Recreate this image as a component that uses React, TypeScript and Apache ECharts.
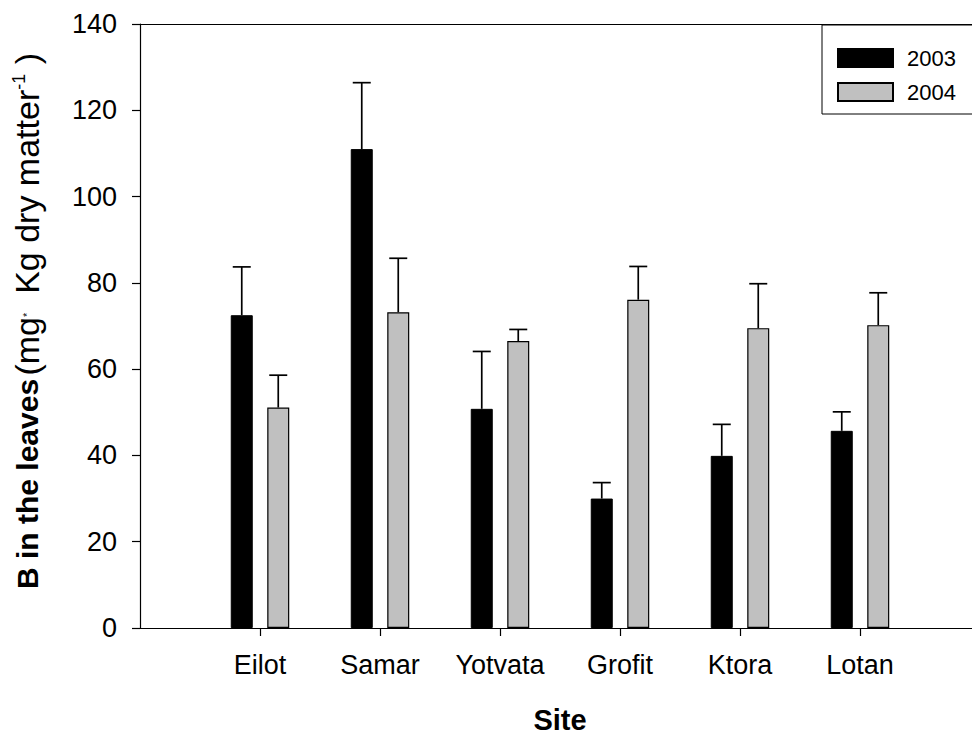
import React, { useEffect, useRef } from "react";
import * as echarts from "echarts";

const categories = ["Eilot", "Samar", "Yotvata", "Grofit", "Ktora", "Lotan"];
const seriesNames = ["2003", "2004"];
const values2003 = [72.5, 111.0, 50.8, 30.0, 39.9, 45.7];
const errors2003 = [11.2, 15.4, 13.3, 3.7, 7.3, 4.4];
const values2004 = [51.1, 73.2, 66.5, 76.1, 69.5, 70.2];
const errors2004 = [7.5, 12.5, 2.7, 7.7, 10.3, 7.5];
const yMin = 0;
const yMax = 140;
const yInterval = 20;

const FONT = "'Liberation Sans', Arial, Helvetica, sans-serif";
const BAR_WIDTH = 22;
const BAR_GAP = 14.5;

export default function App() {
  const ref = useRef<HTMLDivElement>(null);
  useEffect(() => {
    if (!ref.current) return;
    const chart = echarts.init(ref.current, null, { renderer: "svg" });
    const axisCats = ["", ...categories, ""];
    const offset = (BAR_WIDTH + BAR_GAP) / 2;
    const errSeries = (name: string, vals: number[], errs: number[], dir: number) => ({
      type: "custom",
      name,
      z: 5,
      silent: true,
      encode: { x: 0, y: 1 },
      data: categories.map((c, i) => [c, vals[i], errs[i]]),
      renderItem: (params: any, api: any) => {
        const idx = api.value(0);
        const v = api.value(1);
        const e = api.value(2);
        const base = api.coord([idx, v]);
        const top = api.coord([idx, v + e]);
        const x = base[0] + dir * offset;
        const cap = 9;
        const style = { stroke: "#000", lineWidth: 1.7 };
        return {
          type: "group",
          children: [
            { type: "line", shape: { x1: x, y1: base[1], x2: x, y2: top[1] }, style },
            { type: "line", shape: { x1: x - cap, y1: top[1], x2: x + cap, y2: top[1] }, style },
          ],
        };
      },
    });
    chart.setOption({
      animation: false,
      backgroundColor: "#fff",
      textStyle: { fontFamily: FONT, color: "#000" },
      grid: {
        left: 140,
        top: 24,
        right: 30,
        bottom: 115,
        show: false,
        outerBoundsMode: "none",
      },
      graphic: [
        {
          type: "rect",
          z: 90,
          shape: { x: 822, y: 25, width: 180, height: 89 },
          style: { fill: "#fff", stroke: "#000", lineWidth: 1 },
        },
      ],
      legend: {
        data: seriesNames,
        orient: "vertical",
        left: 837,
        top: 47,
        itemWidth: 55,
        itemHeight: 18,
        itemGap: 12,
        padding: 0,
        z: 100,
        icon: "rect",
        textStyle: {
          fontSize: 22,
          lineHeight: 18,
          fontFamily: FONT,
          color: "#000",
          padding: [0, 0, 0, 9],
        },
      },
      xAxis: [
        {
          type: "category",
          data: axisCats,
          boundaryGap: false,
          axisLine: { lineStyle: { color: "#000", width: 1.2 } },
          axisTick: {
            show: true,
            length: 8,
            interval: (index: number, value: string) => value !== "",
            lineStyle: { color: "#000", width: 1.2 },
          },
          axisLabel: { interval: 0, fontSize: 27, color: "#000", margin: 23, fontFamily: FONT },
          splitLine: { show: false },
          name: "Site",
          nameLocation: "middle",
          nameGap: 77,
          nameTextStyle: { fontSize: 29, fontWeight: "bold", color: "#000", fontFamily: FONT },
        },
        {
          type: "category",
          data: axisCats,
          boundaryGap: false,
          position: "top",
          axisLine: { show: true, lineStyle: { color: "#000", width: 1.2 } },
          axisTick: { show: false },
          axisLabel: { show: false },
          splitLine: { show: false },
        },
      ],
      yAxis: {
        type: "value",
        min: yMin,
        max: yMax,
        interval: yInterval,
        axisLine: { show: true, lineStyle: { color: "#000", width: 1.2 } },
        axisTick: { show: true, length: 8, lineStyle: { color: "#000", width: 1.2 } },
        axisLabel: { fontSize: 27, color: "#000", margin: 23, fontFamily: FONT },
        splitLine: { show: false },
        name: "{b|B in the leaves} {r|(mg}{d|*}{r|  Kg dry matter}{s|-1}{r| )}",
        nameLocation: "middle",
        nameGap: 96,
        nameTextStyle: {
          color: "#000",
          fontFamily: FONT,
          rich: {
            b: {
              fontSize: 30,
              fontWeight: "bold",
              color: "#000",
              fontFamily: FONT,
              padding: [0, 0, 0, 10],
            },
            r: { fontSize: 34, color: "#000", fontFamily: FONT },
            d: { fontSize: 11, color: "#000", fontFamily: FONT },
            s: { fontSize: 18, color: "#000", fontFamily: FONT, verticalAlign: "top", lineHeight: 18 },
          },
        },
      },
      series: [
        {
          type: "bar",
          name: seriesNames[0],
          data: categories.map((c, i) => [c, values2003[i]]),
          barWidth: BAR_WIDTH,
          barGap: `${(BAR_GAP / BAR_WIDTH) * 100}%`,
          itemStyle: { color: "#000", borderColor: "#000", borderWidth: 1 },
        },
        {
          type: "bar",
          name: seriesNames[1],
          data: categories.map((c, i) => [c, values2004[i]]),
          barWidth: BAR_WIDTH,
          itemStyle: { color: "#c0c0c0", borderColor: "#000", borderWidth: 1.2 },
        },
        errSeries("err2003", values2003, errors2003, -1),
        errSeries("err2004", values2004, errors2004, 1),
      ],
    });
    return () => chart.dispose();
  }, []);
  return (
    <div
      style={{
        position: "fixed",
        left: 0,
        top: 0,
        width: 972,
        height: 743,
        overflow: "hidden",
        background: "#fff",
      }}
    >
      <div ref={ref} style={{ width: 1010, height: 743, background: "#fff" }} />
    </div>
  );
}
